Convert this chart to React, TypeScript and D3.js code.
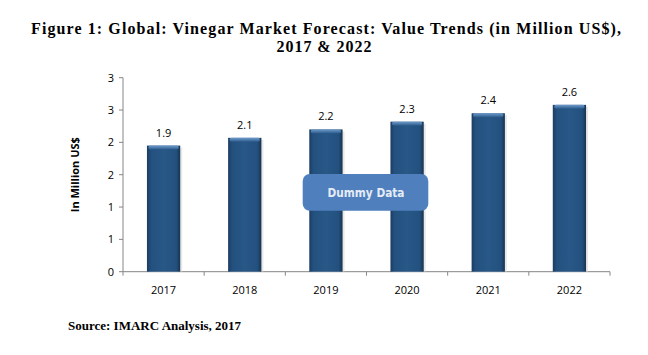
import React from "react";
import * as d3 from "d3";

const categories = ["2017", "2018", "2019", "2020", "2021", "2022"];
const values = [1.95, 2.07, 2.2, 2.32, 2.45, 2.58];
const valueLabels = ["1.9", "2.1", "2.2", "2.3", "2.4", "2.6"];
const yTicks = [0, 0.5, 1, 1.5, 2, 2.5, 3];
const yTickLabels = ["0", "1", "1", "2", "2", "3", "3"];

const W = 648;
const H = 355;
const left = 123;
const right = 610;
const top = 77.7;
const bottom = 271.7;

export default function App() {
  const x = d3.scaleBand<string>().domain(categories).range([left, right]).paddingInner(0.59).paddingOuter(0.295);
  const y = d3.scaleLinear().domain([0, 3]).range([bottom, top]);
  const bw = x.bandwidth();
  const step = (right - left) / categories.length;
  const sans = "'Open Sans', 'DejaVu Sans', sans-serif";
  return (
    <svg width={W} height={H} style={{ position: "absolute", left: 0, top: 0, background: "#fff" }}>
      <defs>
        <linearGradient id="barG" x1="0" x2="1" y1="0" y2="0">
          <stop offset="0" stopColor="#1b3d62" />
          <stop offset="0.12" stopColor="#23507f" />
          <stop offset="0.5" stopColor="#285887" />
          <stop offset="0.88" stopColor="#23507f" />
          <stop offset="1" stopColor="#17344f" />
        </linearGradient>
        <linearGradient id="capG" x1="0" x2="0" y1="0" y2="1">
          <stop offset="0" stopColor="#6f9bcc" />
          <stop offset="1" stopColor="#2a5a8b" />
        </linearGradient>
      </defs>
      <g fontFamily="'Liberation Serif', 'Times New Roman', serif" fontWeight="bold" fill="#000" textAnchor="middle">
        <text x={W / 2 + 2} y={34} fontSize={16} textLength={590} lengthAdjust="spacing">
          Figure 1: Global: Vinegar Market Forecast: Value Trends (in Million US$),
        </text>
        <text x={W / 2} y={52} fontSize={16} textLength={95} lengthAdjust="spacing">2017 &amp; 2022</text>
      </g>
      {/* axes */}
      <line x1={left} x2={left} y1={top} y2={bottom} stroke="#868686" />
      <line x1={left} x2={right} y1={bottom} y2={bottom} stroke="#868686" />
      {yTicks.map((t, i) => (
        <g key={i}>
          <line x1={left - 4} x2={left} y1={y(t)} y2={y(t)} stroke="#868686" />
          <text x={left - 9} y={y(t) + 4} fontSize={11} fontFamily={sans} textAnchor="end" fill="#000">
            {yTickLabels[i]}
          </text>
        </g>
      ))}
      {d3.range(categories.length + 1).map((i) => (
        <line key={i} x1={left + i * step} x2={left + i * step} y1={bottom} y2={bottom + 4} stroke="#868686" />
      ))}
      {categories.map((c) => (
        <text key={c} x={(x(c) as number) + bw / 2} y={294} fontSize={11} fontFamily={sans} textAnchor="middle" fill="#000">
          {c}
        </text>
      ))}
      {/* bars */}
      {categories.map((c, i) => {
        const bx = x(c) as number;
        const by = y(values[i]);
        return (
          <g key={c}>
            <rect x={bx + 2} y={by + 2} width={bw} height={bottom - by - 2} fill="#d9d9d9" opacity={0.6} />
            <rect x={bx} y={by} width={bw} height={bottom - by} fill="url(#barG)" />
            <rect x={bx + 1.5} y={by} width={bw - 3} height={4} rx={2} fill="url(#capG)" />
            <text x={bx + bw / 2} y={by - 9} fontSize={11} fontFamily={sans} textAnchor="middle" fill="#000">
              {valueLabels[i]}
            </text>
          </g>
        );
      })}
      <text
        transform={`translate(79, ${(top + bottom) / 2}) rotate(-90)`}
        fontSize={11}
        fontWeight="bold"
        fontFamily={sans}
        textAnchor="middle"
        fill="#000"
      >
        In Million US$
      </text>
      {/* watermark box */}
      <rect x={302.7} y={174} width={125.6} height={36.7} rx={7} fill="#4f7fbc" />
      <text x={366} y={197} fontSize={12.5} fontWeight="bold" fontFamily="'DejaVu Sans', sans-serif" textAnchor="middle" fill="#e4ecf7" textLength={77} lengthAdjust="spacingAndGlyphs">
        Dummy Data
      </text>
      <text x={68} y={330} fontSize={13} fontWeight="bold" fontFamily="'Liberation Serif', 'Times New Roman', serif" fill="#000">
        Source: IMARC Analysis, 2017
      </text>
    </svg>
  );
}
